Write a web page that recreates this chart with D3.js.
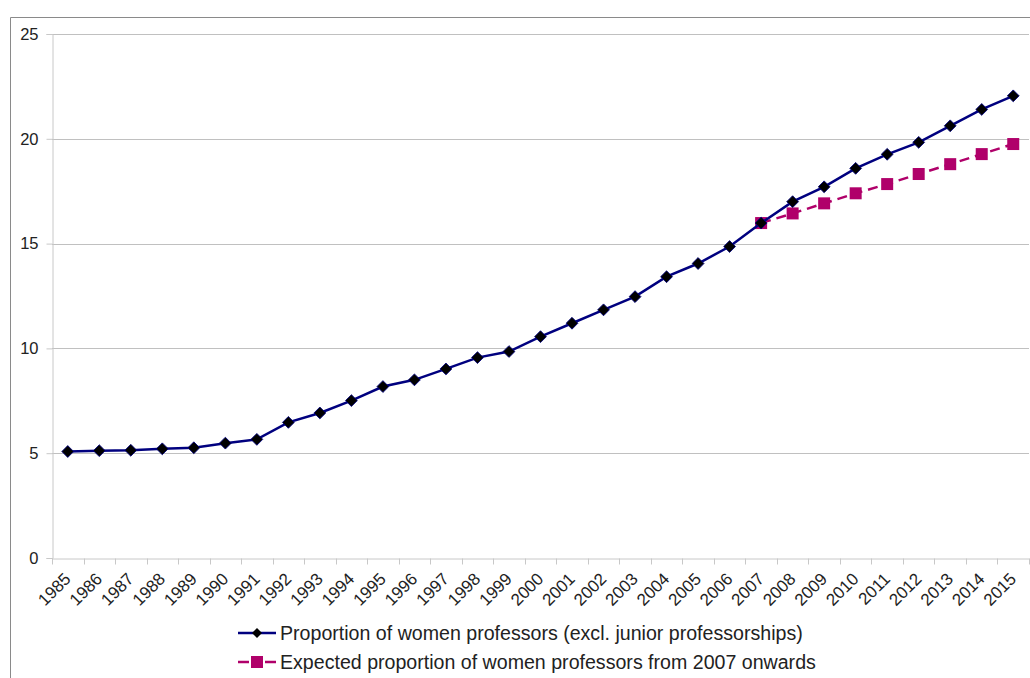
<!DOCTYPE html>
<html><head><meta charset="utf-8">
<script src="https://cdn.jsdelivr.net/npm/d3@7"></script>
<style>body{margin:0;background:#fff;} svg{display:block;font-family:"Liberation Sans",Arial,sans-serif;}</style>
</head><body>
<svg id="chart" width="1030" height="678"></svg>
<script>
const years = ["1985","1986","1987","1988","1989","1990","1991","1992","1993","1994","1995","1996","1997","1998","1999","2000","2001","2002","2003","2004","2005","2006","2007","2008","2009","2010","2011","2012","2013","2014","2015"];
const actual = [5.08,5.12,5.14,5.21,5.26,5.48,5.66,6.47,6.92,7.51,8.18,8.5,9.02,9.56,9.85,10.56,11.2,11.84,12.47,13.42,14.05,14.86,15.98,17.0,17.71,18.59,19.26,19.83,20.62,21.4,22.05];
const expectedYears = ["2007","2008","2009","2010","2011","2012","2013","2014","2015"];
const expected = [15.98,16.44,16.92,17.4,17.84,18.32,18.79,19.27,19.75];
const yTicks = [0,5,10,15,20,25];
const seriesNames = ["Proportion of women professors (excl. junior professorships)","Expected proportion of women professors from 2007 onwards"];

(function(){
const svg = d3.select("#chart");
const mL = 52, mR = 1029, mT = 34, mB = 558;
const x = d3.scaleBand().domain(years).range([mL, mR]);
const y = d3.scaleLinear().domain([0,25]).range([mB, mT]);
const cx = d => x(d) + x.bandwidth()/2;

// frame
svg.append("path").attr("d", `M10.5,678 V17.5 H1030`).attr("fill","none").attr("stroke","#8a8a8a").attr("stroke-width",1);

// gridlines
svg.append("g").selectAll("line").data(yTicks.filter(t=>t>0)).join("line")
  .attr("x1", mL).attr("x2", mR).attr("y1", d=>Math.round(y(d))+0.5).attr("y2", d=>Math.round(y(d))+0.5)
  .attr("stroke","#c0c0c0").attr("stroke-width",1);

// y axis
const ya = svg.append("g").attr("transform",`translate(${mL+0.5},0)`)
  .call(d3.axisLeft(y).tickValues(yTicks).tickSize(6).tickPadding(8).tickFormat(d3.format("d")));
ya.select(".domain").attr("stroke","#c8c8c8");
ya.selectAll(".tick line").attr("stroke","#c8c8c8");
ya.selectAll("text").attr("font-size",16.5).attr("fill","#222").attr("font-family","Liberation Sans, Arial, sans-serif");

// x axis
const xa = svg.append("g").attr("transform",`translate(0,${Math.round(mB)+0.5})`)
  .call(d3.axisBottom(x).tickSize(0).tickFormat(""));
xa.select(".domain").attr("stroke","#c8c8c8");
xa.selectAll(".tick").remove();
const bounds = years.map(d=>x(d)).concat([x(years[years.length-1])+x.bandwidth()]);
xa.selectAll("line.tk").data(bounds).join("line").attr("class","tk")
  .attr("x1",d=>Math.round(d)+0.5).attr("x2",d=>Math.round(d)+0.5).attr("y1",0).attr("y2",6)
  .attr("stroke","#c8c8c8");
svg.append("g").selectAll("text").data(years).join("text")
  .attr("transform", d=>`translate(${cx(d)+4},${mB+22}) rotate(-45)`)
  .attr("text-anchor","end")
  .attr("font-size",17).attr("fill","#222").text(d=>d);

// lines
const blue = "#00007f", pink = "#b0006a";
const line = d3.line().x(d=>cx(d[0])).y(d=>y(d[1]));
const actualPts = years.map((d,i)=>[d, actual[i]]);
const expPts = expectedYears.map((d,i)=>[d, expected[i]]);

svg.append("path").datum(expPts).attr("d", line).attr("fill","none")
  .attr("stroke", pink).attr("stroke-width",2.5).attr("stroke-dasharray","10,6");
svg.append("g").selectAll("rect").data(expPts).join("rect")
  .attr("x", d=>cx(d[0])-6).attr("y", d=>y(d[1])-6).attr("width",12).attr("height",12).attr("fill",pink);

svg.append("path").datum(actualPts).attr("d", line).attr("fill","none")
  .attr("stroke", blue).attr("stroke-width",2.5);
svg.append("g").selectAll("path").data(actualPts).join("path")
  .attr("transform", d=>`translate(${cx(d[0])},${y(d[1])}) rotate(45)`)
  .attr("d", d3.symbol().type(d3.symbolSquare).size(70)).attr("fill","#000").attr("stroke",blue).attr("stroke-width",0.8);

// legend
const lg = svg.append("g");
lg.append("line").attr("x1",238).attr("x2",276).attr("y1",633).attr("y2",633).attr("stroke",blue).attr("stroke-width",2.5);
lg.append("path").attr("transform","translate(257,633) rotate(45)").attr("d", d3.symbol().type(d3.symbolSquare).size(50)).attr("fill","#000");
lg.append("text").attr("x",280).attr("y",633).attr("dy","0.35em").attr("font-size",19.6).attr("fill","#222").text(seriesNames[0]);
lg.append("line").attr("x1",238).attr("x2",249).attr("y1",662).attr("y2",662).attr("stroke",pink).attr("stroke-width",2.5);
lg.append("line").attr("x1",265).attr("x2",276).attr("y1",662).attr("y2",662).attr("stroke",pink).attr("stroke-width",2.5);
lg.append("rect").attr("x",251).attr("y",656).attr("width",12).attr("height",12).attr("fill",pink);
lg.append("text").attr("x",280).attr("y",662).attr("dy","0.35em").attr("font-size",19.6).attr("fill","#222").text(seriesNames[1]);
})();
</script>
</body></html>
